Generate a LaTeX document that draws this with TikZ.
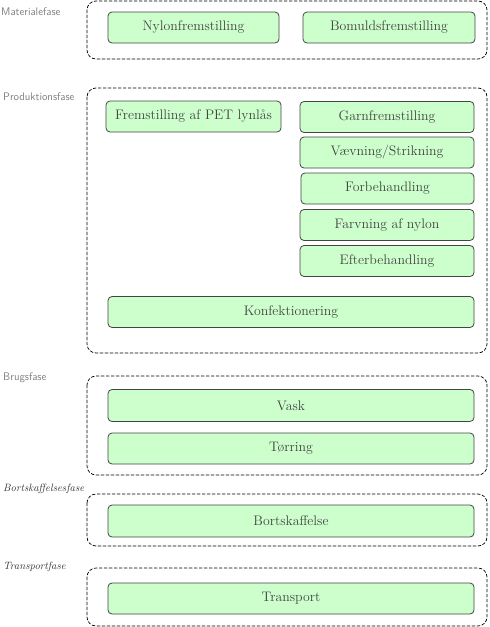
\documentclass[tikz,border=0pt]{standalone}
\usepackage{tikz}
\definecolor{boxgreen}{HTML}{CCFFCC}
\definecolor{boxline}{HTML}{444444}
\definecolor{labelgray}{HTML}{808080}
\tikzset{
  phase/.style={draw=black,dash pattern=on 3pt off 2pt,rounded corners=9pt,line width=0.7pt},
  proc/.style={draw=boxline,fill=boxgreen,rounded corners=4pt,line width=0.8pt,
    minimum height=31pt,inner sep=0pt,text=boxline,font=\fontsize{13.8}{16}\selectfont},
  phaselabel/.style={anchor=west,inner sep=0pt,text=labelgray,font=\sffamily\fontsize{11}{13}\selectfont},
  phaselabelit/.style={anchor=west,inner sep=0pt,text=black!80,font=\itshape\fontsize{10.6}{12}\selectfont}
}

\begin{document}
\begin{tikzpicture}[line cap=round,line join=round,x=1pt,y=-1pt]
\useasboundingbox (0,0) rectangle (490,627);
% phases
\draw[phase] (87,1) rectangle (487,59);
\draw[phase] (87,88) rectangle (487,353);
\draw[phase] (87,376) rectangle (487,475);
\draw[phase] (87,494) rectangle (487,546);
\draw[phase] (87,568) rectangle (487,626);
\node[phaselabel] (lmat) at (1,12) {Materialefase};
\node[phaselabel] (lprod) at (3,97) {Produktionsfase};
\node[phaselabel] (lbrug) at (3,378) {Brugsfase};
\node[phaselabelit] (lbort) at (3,489) {Bortskaffelsesfase};
\node[phaselabelit] (ltrans) at (3,567) {Transportfase};
% materialefase
\node[proc,minimum width=171pt] (nylon) at (193.5,27.5) {Nylonfremstilling};
\node[proc,minimum width=172pt] (bomuld) at (389,27.5) {Bomuldsfremstilling};
% produktionsfase
\node[proc,minimum width=175pt] (pet) at (193.5,116.5) {Fremstilling af PET lynlås};
\node[proc,minimum width=174pt] (garn) at (387,117) {Garnfremstilling};
\node[proc,minimum width=174pt] (vaev) at (387,152.5) {Vævning/Strikning};
\node[proc,minimum width=173pt] (forb) at (387.5,188.5) {Forbehandling};
\node[proc,minimum width=174pt] (farv) at (387,225) {Farvning af nylon};
\node[proc,minimum width=174pt] (efter) at (387,261) {Efterbehandling};
\node[proc,minimum width=366pt] (konf) at (291,312) {Konfektionering};
% brugsfase
\node[proc,minimum width=366pt,minimum height=32pt] (vask) at (291,405.5) {Vask};
\node[proc,minimum width=366pt] (torr) at (291,448.5) {Tørring};
% bortskaffelse og transport
\node[proc,minimum width=366pt,minimum height=32pt] (bort) at (291,521) {Bortskaffelse};
\node[proc,minimum width=366pt] (transp) at (291,598.5) {Transport};
\end{tikzpicture}
\end{document}
